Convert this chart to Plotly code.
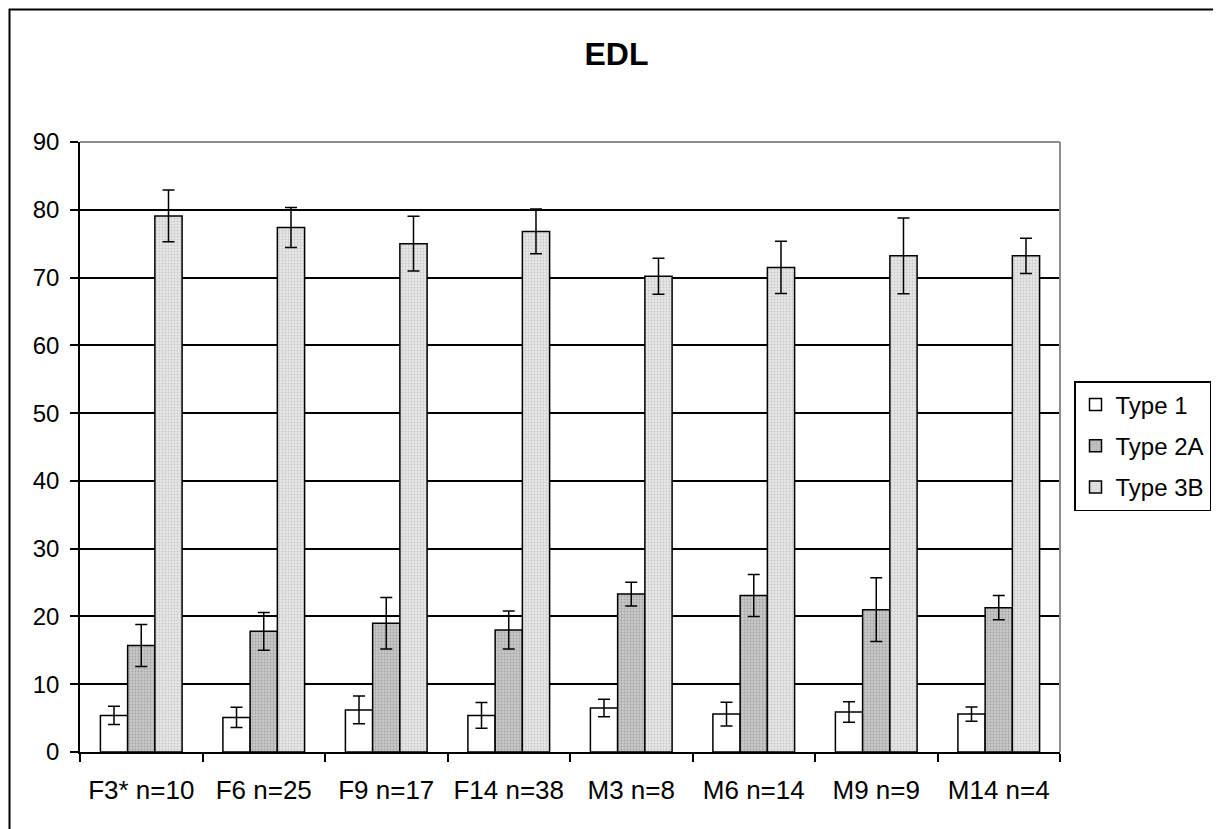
import plotly.graph_objects as go

categories = ["F3* n=10", "F6 n=25", "F9 n=17", "F14 n=38", "M3 n=8", "M6 n=14", "M9 n=9", "M14 n=4"]
type1 = [5.4, 5.1, 6.2, 5.4, 6.5, 5.6, 5.9, 5.6]
type1_err = [1.35, 1.5, 2.05, 1.9, 1.3, 1.75, 1.5, 1.05]
type2a = [15.7, 17.8, 19.0, 18.0, 23.3, 23.1, 21.0, 21.3]
type2a_err = [3.1, 2.8, 3.8, 2.8, 1.75, 3.1, 4.7, 1.8]
type3b = [79.1, 77.4, 75.0, 76.8, 70.2, 71.5, 73.2, 73.2]
type3b_err = [3.8, 2.95, 4.05, 3.3, 2.65, 3.85, 5.6, 2.6]

FONT = "Arial, Liberation Sans, sans-serif"

def err(vals):
    return dict(type="data", array=vals, visible=True, color="black", thickness=1.5, width=6)

fig = go.Figure()
fig.add_trace(go.Bar(
    name="Type 1", x=categories, y=type1, error_y=err(type1_err), legendgroup="a",
    marker=dict(color="white", line=dict(color="black", width=1.5)),
))
fig.add_trace(go.Bar(
    name="Type 2A", x=categories, y=type2a, error_y=err(type2a_err), legendgroup="b",
    marker=dict(color="#bcbcbc", line=dict(color="black", width=1.5),
                pattern=dict(shape=".", fgcolor="#808080", bgcolor="#c8c8c8", size=3, solidity=0.3)),
))
fig.add_trace(go.Bar(
    name="Type 3B", x=categories, y=type3b, error_y=err(type3b_err), legendgroup="c",
    marker=dict(color="#dcdcdc", line=dict(color="black", width=1.5),
                pattern=dict(shape=".", fgcolor="#ababab", bgcolor="#e6e6e6", size=3, solidity=0.3)),
))

# page has an 8px body margin, so figure coordinates = page coordinates - 8
OFF = 8
W, H = 1221 - OFF, 829 - OFF
L, R, T, B = 80 - OFF, 1060 - OFF, 142 - OFF, 752 - OFF

def px_x(x):
    return (x - OFF - L) / (R - L)

def px_y(y):
    return (B - (y - OFF)) / (B - T)

fig.update_layout(
    width=W, height=H, autosize=False,
    margin=dict(l=L, r=W - R, t=T, b=H - B, pad=0, autoexpand=False),
    paper_bgcolor="white", plot_bgcolor="white",
    font=dict(family=FONT, size=24, color="black"),
    barmode="group", bargap=0.333, bargroupgap=0,
    title=dict(text="<b>EDL</b>", x=(616.5 - OFF) / W, xref="container", xanchor="center",
               y=1 - (54 - OFF) / H, yref="container", yanchor="middle",
               font=dict(family=FONT, size=32, color="black")),
    legend=dict(x=px_x(1074), xanchor="left", y=px_y(446), yanchor="middle",
                bordercolor="black", borderwidth=1.5, bgcolor="white",
                font=dict(family=FONT, size=24, color="black"),
                tracegroupgap=7, traceorder="grouped"),
    xaxis=dict(showline=True, linecolor="black", linewidth=1.5,
               ticks="outside", tickson="boundaries", ticklen=8, tickcolor="black", tickwidth=1.5,
               ticklabelstandoff=14,
               showgrid=False, tickfont=dict(family=FONT, size=26, color="black")),
    yaxis=dict(range=[0, 90], dtick=10, showline=True, linecolor="black", linewidth=1.5,
               ticks="outside", ticklen=8, tickcolor="black", tickwidth=1.5,
               ticklabelstandoff=6,
               showgrid=True, gridcolor="black", gridwidth=1.5, zeroline=False,
               tickfont=dict(family=FONT, size=24, color="black")),
    shapes=[
        dict(type="line", xref="paper", yref="paper", x0=0, x1=1, y0=1, y1=1,
             line=dict(color="#8c8c8c", width=2)),
        dict(type="line", xref="paper", yref="paper", x0=1, x1=1, y0=0, y1=1,
             line=dict(color="#8c8c8c", width=2)),
        dict(type="rect", xref="paper", yref="paper",
             x0=px_x(9.5), x1=px_x(1250), y0=px_y(860), y1=px_y(9.5),
             line=dict(color="black", width=2), layer="above"),
    ],
)

fig.write_html("out.html")
